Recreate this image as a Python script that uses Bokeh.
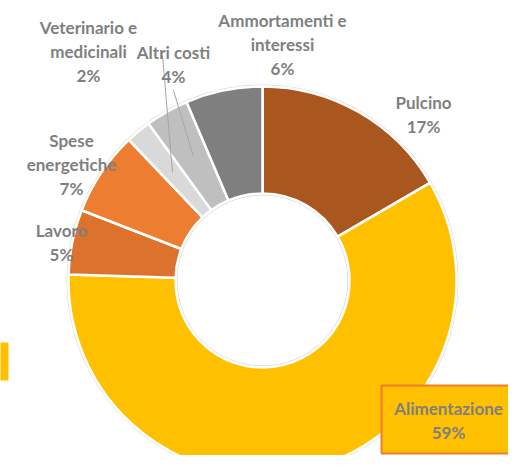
import math
from bokeh.plotting import figure
from bokeh.models import Range1d, ColumnDataSource
from bokeh.embed import file_html
from bokeh.resources import INLINE
from bokeh.core.properties import value

# ---- data ----
categories = ["Pulcino", "Alimentazione", "Lavoro", "Spese energetiche",
              "Veterinario e medicinali", "Altri costi", "Ammortamenti e interessi"]
shares = [16.6, 58.9, 5.4, 7.0, 2.1, 3.6, 6.4]
label_lines = [["Pulcino"], ["Alimentazione"], ["Lavoro"], ["Spese", "energetiche"],
               ["Veterinario e", "medicinali"], ["Altri costi"], ["Ammortamenti e", "interessi"]]

# ---- style ----
colors = ["#A9571F", "#FFC000", "#DC722C", "#ED7D31", "#D9D9D9", "#BFBFBF", "#7F7F7F"]
# label anchor (centre of first line) in reference pixels
label_pos = [(423, 102), (448, 408), (61, 230), (71, 140), (88, 27), (173, 52), (282, 20)]
LINE_H = 24
W, H = 524, 471
def Y(py):
    return H - py

cx, cy = 262, Y(280)
r_out, r_in = 194, 87

p = figure(width=508, height=455, x_range=Range1d(0, 508), y_range=Range1d(Y(455), Y(0)),
           output_backend="svg", toolbar_location=None, min_border=0)
p.axis.visible = False
p.grid.visible = False
p.outline_line_color = None
p.background_fill_color = "white"

total = sum(shares)
starts, ends = [], []
cum = 0.0
for s in shares:
    starts.append(math.pi / 2 - cum / total * 2 * math.pi)
    cum += s
    ends.append(math.pi / 2 - cum / total * 2 * math.pi)

src = ColumnDataSource(dict(start=starts, end=ends, color=colors, cat=categories))

# faint rims
p.circle(x=[cx], y=[cy], radius=r_out + 1.5, fill_color=None, line_color="#D6D6D6", line_width=1)
p.circle(x=[cx], y=[cy], radius=r_in - 1.5, fill_color=None, line_color="#D6D6D6", line_width=1)

p.annular_wedge(x=cx, y=cy, inner_radius=r_in, outer_radius=r_out,
                start_angle="start", end_angle="end", direction="clock",
                fill_color="color", line_color="white", line_width=2.5, source=src)

# small legend swatch fragment at left edge
p.quad(left=[-2], right=[8], top=[Y(342)], bottom=[Y(380)], fill_color="#FFC000", line_color=None)

# Alimentazione label box
p.quad(left=[381], right=[530], top=[Y(385)], bottom=[Y(453)],
       fill_color="#FFC000", line_color="#ED7D31", line_width=2)

# leader lines
p.segment(x0=[162, 173], y0=[Y(55), Y(90)], x1=[172, 193], y1=[Y(172), Y(156)],
          line_color="#A6A6A6", line_width=1)

xs, ys, texts = [], [], []
for lines, s, (lx, ly) in zip(label_lines, shares, label_pos):
    all_lines = lines + [f"{round(s / total * 100)}%"]
    for i, t in enumerate(all_lines):
        xs.append(lx)
        ys.append(Y(ly + i * LINE_H))
        texts.append(t)

p.text(x=xs, y=ys, text=texts, text_font=value("Lato"), text_font_style="bold",
       text_font_size="17px", text_color="#7F7F7F", text_align="center",
       text_baseline="middle")

open("out.html", "w").write(file_html(p, INLINE))
